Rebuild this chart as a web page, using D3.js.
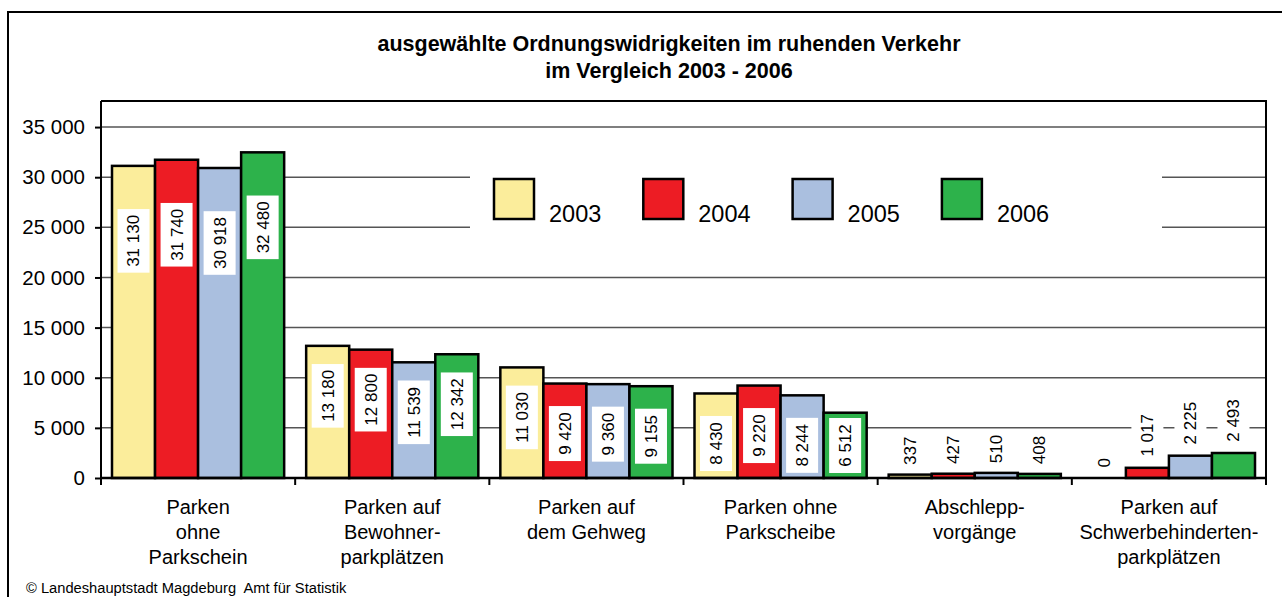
<!DOCTYPE html>
<html>
<head>
<meta charset="utf-8">
<script src="https://cdn.jsdelivr.net/npm/d3@7"></script>
<style>
  body { margin: 0; background: #fff; }
  svg { font-family: Arial, "Liberation Sans", sans-serif; }
</style>
</head>
<body>
<div id="chart"></div>
<script>
// categories (x axis), one label line per array entry
const categories = [
  ["Parken", "ohne", "Parkschein"],
  ["Parken auf", "Bewohner-", "parkplätzen"],
  ["Parken auf", "dem Gehweg"],
  ["Parken ohne", "Parkscheibe"],
  ["Abschlepp-", "vorgänge"],
  ["Parken auf", "Schwerbehinderten-", "parkplätzen"]
];
const years = ["2003", "2004", "2005", "2006"];
const values2003 = [31130, 13180, 11030, 8430, 337, 0];
const values2004 = [31740, 12800, 9420, 9220, 427, 1017];
const values2005 = [30918, 11539, 9360, 8244, 510, 2225];
const values2006 = [32480, 12342, 9155, 6512, 408, 2493];
const yTicks = [0, 5000, 10000, 15000, 20000, 25000, 30000, 35000];
const colors = ["#fbed9b", "#ed1c24", "#aabfdf", "#2db24b"];

const series = [values2003, values2004, values2005, values2006];

const W = 1282, H = 597;
const plot = { left: 101, right: 1266, top: 101, bottom: 478 };

const de = d3.formatLocale({ decimal: ",", thousands: " ", grouping: [3], currency: ["", "€"] });
const fmt = de.format(",d");

const svg = d3.select("#chart").append("svg")
  .attr("width", W).attr("height", H);

// outer frame
svg.append("rect")
  .attr("x", 8).attr("y", 12).attr("width", 1300).attr("height", 620)
  .attr("fill", "#fff").attr("stroke", "#000").attr("stroke-width", 2);

// title
const title = svg.append("text")
  .attr("text-anchor", "middle")
  .attr("font-size", 21.5).attr("font-weight", "bold");
title.append("tspan").attr("x", 669).attr("y", 51)
  .text("ausgewählte Ordnungswidrigkeiten im ruhenden Verkehr");
title.append("tspan").attr("x", 669).attr("y", 78)
  .text("im Vergleich 2003 - 2006");

const x0 = d3.scaleBand()
  .domain(d3.range(categories.length))
  .range([plot.left, plot.right])
  .padding(0);
const x1 = d3.scaleBand()
  .domain(years)
  .range([11, x0.bandwidth() - 11]);
const y = d3.scaleLinear()
  .domain([0, 37600])
  .range([plot.bottom, plot.top]);

// gridlines
svg.append("g").selectAll("line")
  .data(yTicks.filter(d => d > 0))
  .join("line")
  .attr("x1", plot.left).attr("x2", plot.right)
  .attr("y1", d => y(d)).attr("y2", d => y(d))
  .attr("stroke", "#555").attr("stroke-width", 1.5);

// plot frame (top and right)
svg.append("path")
  .attr("d", `M${plot.left},${plot.top}H${plot.right}V${plot.bottom}`)
  .attr("fill", "none").attr("stroke", "#000").attr("stroke-width", 2);

// legend (white box hides gridlines)
const legend = svg.append("g");
legend.append("rect")
  .attr("x", 470).attr("y", 150).attr("width", 692).attr("height", 100)
  .attr("fill", "#fff");
const li = legend.selectAll("g.item")
  .data(years)
  .join("g")
  .attr("class", "item")
  .attr("transform", (d, i) => `translate(${494 + i * 149.3},179)`);
li.append("rect")
  .attr("width", 40).attr("height", 40)
  .attr("fill", (d, i) => colors[i])
  .attr("stroke", "#000").attr("stroke-width", 2.5);
li.append("text")
  .attr("x", 55).attr("y", 43)
  .attr("font-size", 23.5)
  .text(d => d);

// bars
const groups = svg.append("g").selectAll("g")
  .data(categories.map((c, i) => i))
  .join("g")
  .attr("transform", i => `translate(${x0(i)},0)`);

const cells = groups.selectAll("g.cell")
  .data(i => years.map((yr, s) => ({ yr, s, v: series[s][i] })))
  .join("g")
  .attr("class", "cell");

cells.filter(d => d.v > 0).append("rect")
  .attr("x", d => x1(d.yr))
  .attr("width", x1.bandwidth())
  .attr("y", d => y(d.v))
  .attr("height", d => y(0) - y(d.v))
  .attr("fill", d => colors[d.s])
  .attr("stroke", "#000").attr("stroke-width", 2.5);

// value labels, rotated, white background
cells.each(function (d) {
  const g = d3.select(this);
  const cx = x1(d.yr) + x1.bandwidth() / 2;
  const txt = fmt(d.v);
  const len = txt.length * 8.6 + 2;
  const top = y(d.v);
  let cy;
  if (d.v > 20000) {
    // tall bars: labels sit further down in the bar
    cy = top + 75;
  } else if (d.v > 5000) {
    cy = Math.min(top + 50, plot.bottom - len / 2 - 10);
  } else {
    cy = top - 10 - len / 2;
  }
  const lg = g.append("g").attr("transform", `translate(${cx},${cy}) rotate(-90)`);
  lg.append("rect")
    .attr("x", -len / 2 - 5).attr("y", -16)
    .attr("width", len + 10).attr("height", 32)
    .attr("fill", "#fff");
  lg.append("text")
    .attr("text-anchor", "middle")
    .attr("dy", "0.35em")
    .attr("font-size", 17)
    .text(txt);
});

// y axis
const yAxis = svg.append("g")
  .attr("transform", `translate(${plot.left},0)`)
  .call(d3.axisLeft(y).tickValues(yTicks).tickFormat(fmt).tickSize(6).tickPadding(10));
yAxis.select(".domain").attr("stroke-width", 2).attr("d", `M0,${plot.top}V${plot.bottom}`);
yAxis.selectAll(".tick line").attr("stroke-width", 2);
yAxis.selectAll(".tick text")
  .attr("font-size", 20.5).attr("font-family", "Arial, 'Liberation Sans', sans-serif")
  .attr("fill", "#000");

// x axis line with ticks at category boundaries
const bounds = d3.range(categories.length + 1).map(i => i === categories.length ? plot.right : x0(i));
svg.append("line")
  .attr("x1", plot.left).attr("x2", plot.right)
  .attr("y1", plot.bottom).attr("y2", plot.bottom)
  .attr("stroke", "#000").attr("stroke-width", 2.5);
svg.append("g").selectAll("line")
  .data(bounds)
  .join("line")
  .attr("x1", d => d).attr("x2", d => d)
  .attr("y1", plot.bottom).attr("y2", plot.bottom + 7)
  .attr("stroke", "#000").attr("stroke-width", 2);

// category labels
svg.append("g").selectAll("text")
  .data(categories)
  .join("text")
  .attr("text-anchor", "middle")
  .attr("font-size", 20)
  .each(function (lines, i) {
    d3.select(this).selectAll("tspan")
      .data(lines)
      .join("tspan")
      .attr("x", x0(i) + x0.bandwidth() / 2)
      .attr("y", (l, k) => 514 + k * 25)
      .text(l => l);
  });

// source
svg.append("text")
  .attr("x", 26).attr("y", 593)
  .attr("font-size", 14.7)
  .attr("xml:space", "preserve")
  .style("white-space", "pre")
  .text("© Landeshauptstadt Magdeburg  Amt für Statistik");
</script>
</body>
</html>
